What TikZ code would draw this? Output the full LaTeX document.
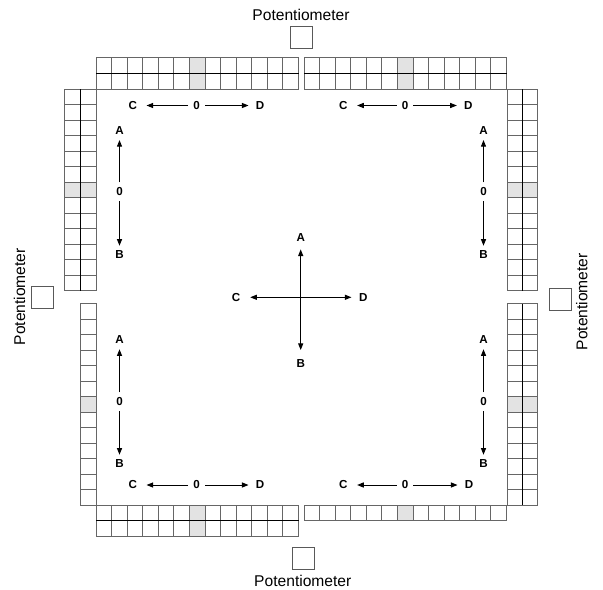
\documentclass[tikz,border=0pt]{standalone}
\usepackage{fontspec}
\setmainfont{Liberation Sans}
\usetikzlibrary{arrows.meta}
% horizontal strip: x0, y0, rows, row height
\newcommand\hstrip[4]{%
  \fill[shadecell] ({#1+6*15.58},#2) rectangle ({#1+7*15.58},{#2+#3*#4});
  \foreach \i in {1,...,12} \draw[cell] ({#1+\i*15.58},#2) -- ({#1+\i*15.58},{#2+#3*#4});
  \draw[cell] (#1,#2) rectangle ({#1+13*15.58},{#2+#3*#4});
}
% vertical strip: x0, y0, cols, col width
\newcommand\vstrip[4]{%
  \fill[shadecell] (#1,{#2+6*15.515}) rectangle ({#1+#3*#4},{#2+7*15.515});
  \foreach \i in {1,...,12} \draw[cell] (#1,{#2+\i*15.515}) -- ({#1+#3*#4},{#2+\i*15.515});
  \draw[cell] (#1,#2) rectangle ({#1+#3*#4},{#2+13*15.515});
}
\begin{document}
\begin{tikzpicture}[x=0.75pt,y=-0.75pt,
  cell/.style={draw=black!60, line width=0.75pt},
  divider/.style={draw=black, line width=0.75pt},
  shadecell/.style={fill=black!11},
  lbl/.style={font=\bfseries\fontsize{8.7}{10}\selectfont, inner sep=0pt},
  pottext/.style={font=\fontsize{11.7}{14}\selectfont, inner sep=0pt, anchor=base},
  potbox/.style={draw=black!65, line width=0.75pt, minimum size=16.5pt, inner sep=0pt},
  tipstyle/.style={},
  arr/.style={-{Triangle[length=5pt,width=3.8pt]}, line width=0.75pt},
  darr/.style={{Triangle[length=5pt,width=3.8pt]}-{Triangle[length=5pt,width=3.8pt]}, line width=0.75pt},
]
\useasboundingbox (0,0) rectangle (603,589);

% ---- strips ----
\hstrip{96}{57.3}{2}{16}
\draw[divider] (96,73.3) -- ({96+13*15.58},73.3);
\hstrip{304}{57.3}{2}{16}
\draw[divider] (304,73.3) -- ({304+13*15.58},73.3);
\hstrip{96}{505.2}{2}{15.5}
\draw[divider] (96,520.7) -- ({96+13*15.58},520.7);
\hstrip{304}{505.2}{1}{15.7}

\vstrip{64.3}{89.3}{2}{15.85}
\draw[divider] (80.15,89.3) -- (80.15,{89.3+13*15.515});
\vstrip{80.3}{303.5}{1}{15.7}
\vstrip{507}{89.3}{2}{15.35}
\draw[divider] (522.35,89.3) -- (522.35,{89.3+13*15.515});
\vstrip{507}{303.5}{2}{15.35}
\draw[divider] (522.35,303.5) -- (522.35,{303.5+13*15.515});

% ---- potentiometers ----
\node[potbox] (potT) at (301.3,37.5) {};
\node[pottext] (potTt) at (301,20) {Potentiometer};
\node[potbox] (potB) at (303.3,558.3) {};
\node[pottext] (potBt) at (302.8,586) {Potentiometer};
\node[potbox] (potL) at (42,297) {};
\node[pottext, rotate=90] (potLt) at (25,296.7) {Potentiometer};
\node[potbox] (potR) at (560.5,299) {};
\node[pottext, rotate=90] (potRt) at (587.3,301.7) {Potentiometer};

% ---- horizontal groups ----
\foreach \n/\xc/\xo/\xd/\yy in {tl/132.7/196.7/260/105.5, tr/343.3/405/468.3/105.5, bl/132.7/196.7/260/485, br/343.3/405/469/485} {
  \node[lbl] (\n C) at (\xc,\yy) {C};
  \node[lbl] (\n O) at (\xo,\yy) {0};
  \node[lbl] (\n D) at (\xd,\yy) {D};
  \draw[arr, shorten <=3.75pt, shorten >=7pt] (\n O) -- (\n C);
  \draw[arr, shorten <=3.75pt, shorten >=5.25pt] (\n O) -- (\n D);
}

% ---- vertical groups ----
\foreach \n/\xx/\ya/\yo/\yb in {lt/119.5/130.8/191.7/255, rt/483.5/130.8/191.7/255, lb/119.5/340/401.7/464, rb/483.5/340/401.7/464} {
  \node[lbl] (\n A) at (\xx,\ya) {A};
  \node[lbl] (\n O) at (\xx,\yo) {0};
  \node[lbl] (\n B) at (\xx,\yb) {B};
  \draw[arr, shorten <=3.75pt, shorten >=3.75pt] (\n O) -- (\n A);
  \draw[arr, shorten <=3.75pt, shorten >=3.75pt] (\n O) -- (\n B);
}

% ---- centre cross ----
\node[lbl] (cA) at (300.7,237.8) {A};
\node[lbl] (cB) at (300.7,363.3) {B};
\node[lbl] (cC) at (236,297.3) {C};
\node[lbl] (cD) at (363.3,297.3) {D};
\draw[darr, shorten <=5.5pt, shorten >=6.75pt] (cA) -- (cB);
\draw[darr, shorten <=7.3pt, shorten >=5.5pt] (cC) -- (cD);
\end{tikzpicture}
\end{document}
